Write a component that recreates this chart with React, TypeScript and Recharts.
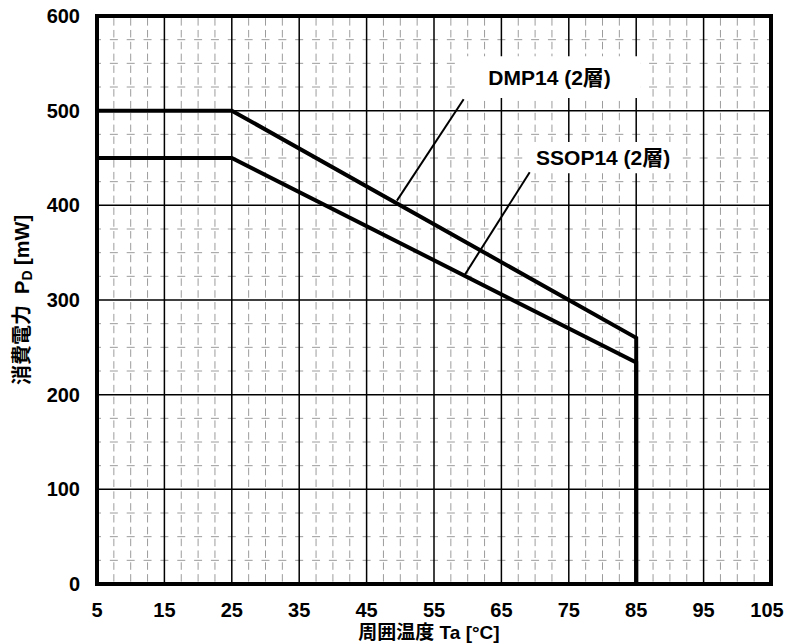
import React from 'react';
import {
  LineChart,
  Line,
  XAxis,
  YAxis,
  CartesianGrid,
  ReferenceArea,
  ReferenceLine,
} from 'recharts';

// ambient temperature (°C) breakpoints of the derating curves
const temps = [5, 25, 85, 85];
const dmp14 = [500, 500, 260, 0];
const ssop14 = [450, 450, 234, 0];

const xTicks = [5, 15, 25, 35, 45, 55, 65, 75, 85, 95, 105];
const yTicks = [0, 100, 200, 300, 400, 500, 600];

// callout leaders: [point on curve, corner of label box]
const dmpLeader = [{ x: 49.5, y: 405 }, { x: 59.4, y: 512 }];
const ssopLeader = [{ x: 59.6, y: 327 }, { x: 69.2, y: 435 }];

const dmpLabel = 'DMP14 (2層)';
const ssopLabel = 'SSOP14 (2層)';

const FONT = '"Liberation Sans", "Noto Sans CJK JP", Arial, sans-serif';

const data = temps.map((t, i) => ({ t, dmp: dmp14[i], ssop: ssop14[i] }));

// minor grid every quarter of a major step
const minorX: number[] = [];
for (let i = 0; i < xTicks.length - 1; i++) {
  const step = (xTicks[i + 1] - xTicks[i]) / 4;
  for (let k = 1; k < 4; k++) minorX.push(xTicks[i] + step * k);
}
const minorY: number[] = [];
for (let i = 0; i < yTicks.length - 1; i++) {
  const step = (yTicks[i + 1] - yTicks[i]) / 4;
  for (let k = 1; k < 4; k++) minorY.push(yTicks[i] + step * k);
}

const tickStyle = { fill: '#000', fontSize: 20, fontWeight: 700, fontFamily: FONT };

// last x label is nudged left so it stays inside the frame
const XTick = ({ x, y, payload, index }: any) => {
  const last = index === xTicks.length - 1;
  return (
    <text
      x={last ? x - 4 : x}
      y={y}
      dy="0.71em"
      textAnchor="middle"
      style={tickStyle}
    >
      {payload.value}
    </text>
  );
};

const YLabel = ({ viewBox }: any) => {
  const cx = 22;
  const cy = viewBox.y + viewBox.height / 2;
  return (
    <text
      x={cx}
      y={cy}
      transform={`rotate(-90, ${cx}, ${cy})`}
      textAnchor="middle"
      dominantBaseline="central"
      fill="#000"
      style={{ fontSize: 20, fontWeight: 700, fontFamily: FONT }}
    >
      消費電力{'\u00a0\u00a0'}P
      <tspan dy={5} fontSize={14}>D</tspan>
      <tspan dy={-5}>{'\u00a0'}[mW]</tspan>
    </text>
  );
};

const XLabel = ({ viewBox }: any) => {
  const cx = viewBox.x + viewBox.width / 2 - 5;
  return (
    <text
      x={cx}
      y={viewBox.y + 55}
      textAnchor="middle"
      fill="#000"
      style={{ fontSize: 19, fontWeight: 700, fontFamily: FONT }}
    >
      周囲温度 Ta [°C]
    </text>
  );
};

const calloutStyle = { fill: '#000', fontSize: 21, fontWeight: 700, fontFamily: FONT };

export default function App() {
  return (
    <div style={{ position: 'absolute', left: 0, top: 0, background: '#fff' }}>
      <LineChart
        width={787}
        height={644}
        data={data}
        margin={{ top: 16, right: 16, bottom: 30, left: 37 }}
      >
        <CartesianGrid
          vertical={false}
          horizontalValues={minorY}
          stroke="#9c9c9c"
          strokeDasharray="8 8.85"
          strokeDashoffset={4}
          strokeWidth={1}
        />
        <CartesianGrid
          horizontal={false}
          verticalValues={minorX}
          stroke="#9c9c9c"
          strokeDasharray="7.5 4.33"
          strokeDashoffset={9.7}
          strokeWidth={1}
        />
        <CartesianGrid
          verticalValues={xTicks}
          horizontalValues={yTicks}
          stroke="#000"
          strokeWidth={1.5}
        />
        <XAxis
          type="number"
          dataKey="t"
          domain={[5, 105]}
          ticks={xTicks}
          interval={0}
          tickSize={0}
          tickMargin={19}
          axisLine={false}
          tickLine={false}
          tick={<XTick />}
          height={30}
          label={<XLabel />}
        />
        <YAxis
          type="number"
          domain={[0, 600]}
          ticks={yTicks}
          interval={0}
          tickSize={0}
          tickMargin={17}
          axisLine={false}
          tickLine={false}
          tick={tickStyle}
          width={60}
          label={<YLabel />}
        />
        <ReferenceArea
          x1={58.7}
          x2={85.6}
          y1={513.5}
          y2={557.5}
          fill="#fff"
          fillOpacity={1}
          stroke="none"
          ifOverflow="visible"
          label={{ value: dmpLabel, position: 'center', style: calloutStyle }}
        />
        <ReferenceArea
          x1={69}
          x2={91.2}
          y1={434}
          y2={467}
          fill="#fff"
          fillOpacity={1}
          stroke="none"
          ifOverflow="visible"
          label={{ value: ssopLabel, position: 'center', style: calloutStyle }}
        />
        <ReferenceLine segment={dmpLeader} stroke="#000" strokeWidth={2} ifOverflow="visible" />
        <ReferenceLine segment={ssopLeader} stroke="#000" strokeWidth={2} ifOverflow="visible" />
        <ReferenceArea
          x1={5}
          x2={105}
          y1={0}
          y2={600}
          fill="none"
          stroke="#000"
          strokeWidth={4}
          ifOverflow="visible"
        />
        <Line
          type="linear"
          dataKey="dmp"
          stroke="#000"
          strokeWidth={4}
          dot={false}
          activeDot={false}
          isAnimationActive={false}
        />
        <Line
          type="linear"
          dataKey="ssop"
          stroke="#000"
          strokeWidth={4}
          dot={false}
          activeDot={false}
          isAnimationActive={false}
        />
      </LineChart>
    </div>
  );
}
